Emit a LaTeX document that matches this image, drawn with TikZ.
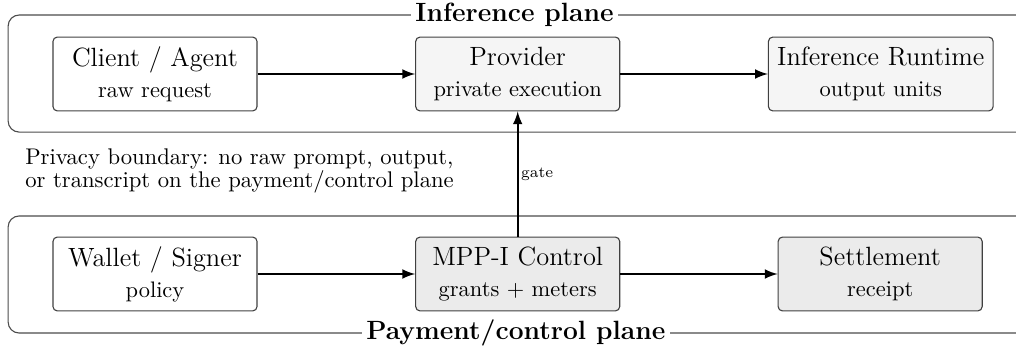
\documentclass[tikz,border=0pt]{standalone}
\usepackage{tikz}
\usetikzlibrary{calc}
\usetikzlibrary{positioning}

\begin{document}
\begin{tikzpicture}[
        plane/.style={draw=black!70, rounded corners=5pt, line width=0.5pt},
        planetitle/.style={fill=white, font=\large\bfseries, inner sep=2pt},
        unit/.style={draw=black!75, rounded corners=2pt, align=center, minimum width=3.26cm, minimum height=1.18cm, inner sep=4pt, line width=0.5pt, font=\fontsize{10.2}{12}\selectfont},
        flow/.style={-latex, line width=1pt}
    ]
                \useasboundingbox (0, 0) rectangle (16.23, -5.575);

                % the two planes
                \draw[plane] (0.13, -0.24) rectangle (16.45, -2.11);
                \draw[plane] (0.13, -3.45) rectangle (16.45, -5.32);
                \node[planetitle] (infplane) at (8.22, -0.24) {Inference plane};
                \node[planetitle] (payplane) at (8.24, -5.32) {Payment/control plane};

                % inference plane
                \node[unit] (client) at (2.476, -1.182)
                    {{\large Client / Agent}\\[2pt] raw request};
                \node[unit, fill=black!4] (provider) at (8.27, -1.182)
                    {{\large Provider}\\[2pt] private execution};
                \node[unit, fill=black!4] (runtime) at (14.07, -1.182)
                    {{\large Inference Runtime}\\[2pt] output units};

                % payment/control plane
                \node[unit] (wallet) at (2.476, -4.377)
                    {{\large Wallet / Signer}\\[2pt] policy};
                \node[unit, fill=black!8] (control) at (8.27, -4.377)
                    {{\large MPP-I Control}\\[2pt] grants + meters};
                \node[unit, fill=black!8] (settle) at (14.06, -4.377)
                    {{\large Settlement}\\[2pt] receipt};

                \node[anchor=west, align=left, font=\fontsize{10.3}{10.6}\selectfont] (privacy) at (0.28, -2.73)
                    {Privacy boundary: no raw prompt, output,\\or transcript on the payment/control plane};

                \draw[flow] (client) -- (provider);
                \draw[flow] (provider) -- (runtime);
                \draw[flow] (wallet) -- (control);
                \draw[flow] (control) -- (settle);
                \draw[flow] (control) -- node[right, font=\scriptsize, inner sep=1pt] {gate} (provider);
            \end{tikzpicture}
\end{document}
